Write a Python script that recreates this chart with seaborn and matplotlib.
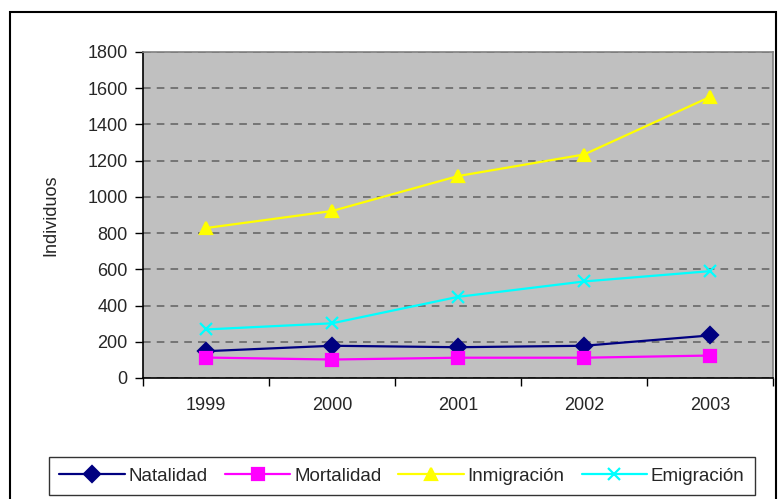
import numpy as np
import pandas as pd
import seaborn as sns
import matplotlib.pyplot as plt
from matplotlib.patches import Rectangle

# Data
years = [1999, 2000, 2001, 2002, 2003]
natalidad = [148, 178, 170, 178, 235]
mortalidad = [113, 102, 112, 112, 124]
inmigracion = [828, 922, 1115, 1234, 1552]
emigracion = [268, 302, 448, 533, 590]

series_names = ["Natalidad", "Mortalidad", "Inmigración", "Emigración"]
series_values = [natalidad, mortalidad, inmigracion, emigracion]
series_colors = ["#000080", "#FF00FF", "#FFFF00", "#00FFFF"]
series_markers = ["D", "s", "^", "x"]


def main():
    sns.set_style("white")
    plt.rcParams["font.family"] = ["Liberation Sans", "DejaVu Sans"]

    fig = plt.figure(figsize=(7.78, 4.99), dpi=100)
    ax = fig.add_axes([143 / 778, 1 - 378 / 499, 630 / 778, 326 / 499])

    # one lineplot call per series (filled and line markers can't be mixed)
    for name, vals, col, mk in zip(series_names, series_values,
                                   series_colors, series_markers):
        df = pd.DataFrame({"Año": years, "Individuos": vals})
        sns.lineplot(data=df, x="Año", y="Individuos", color=col, marker=mk,
                     markersize=8.5, markeredgewidth=1.6, markeredgecolor=col,
                     linewidth=1.6, label=name, ax=ax)

    ax.set_facecolor("#C0C0C0")
    for sp in ax.spines.values():
        sp.set_color("#808080")
        sp.set_linewidth(1.2)
    ax.spines["left"].set_color("black")
    ax.spines["bottom"].set_color("black")

    ax.set_xlim(years[0] - 0.5, years[-1] + 0.5)
    ax.set_ylim(0, 1800)
    ax.set_yticks(np.arange(0, 1801, 200))
    ax.set_xticks(years)
    ax.set_xticklabels([str(y) for y in years])
    ax.set_xticks(np.arange(years[0] - 0.5, years[-1] + 0.6, 1), minor=True)
    ax.tick_params(axis="x", which="major", length=0, pad=14, labelsize=13)
    ax.tick_params(axis="x", which="minor", length=6, width=1, direction="out",
                   bottom=True, color="black")
    ax.tick_params(axis="y", length=6, width=1, direction="out", left=True,
                   color="black", labelsize=13, pad=5)
    ax.yaxis.grid(True, linestyle=(0, (5, 4)), color="#606060", linewidth=1.1)
    ax.xaxis.grid(False)
    ax.set_axisbelow(True)

    ax.set_xlabel("")
    ax.set_ylabel("Individuos", fontsize=13, labelpad=20)

    handles, labels = ax.get_legend_handles_labels()
    leg = ax.legend(handles, labels, loc="center", ncol=4,
                    bbox_to_anchor=(402 / 778, 1 - 476 / 499),
                    bbox_transform=fig.transFigure, frameon=True, fancybox=False,
                    edgecolor="black", fontsize=13.5, handlelength=3.5,
                    handletextpad=0.2, columnspacing=0.9, borderpad=0.55)
    leg.get_frame().set_linewidth(1.0)

    # outer chart border
    fig.patches.append(Rectangle((10 / 778, -0.05), 766 / 778, 1 - 12 / 499 + 0.05,
                                 transform=fig.transFigure, fill=False,
                                 edgecolor="black", linewidth=1.5))

    fig.savefig("out.png", dpi=100, facecolor="white")


if __name__ == "__main__":
    main()
